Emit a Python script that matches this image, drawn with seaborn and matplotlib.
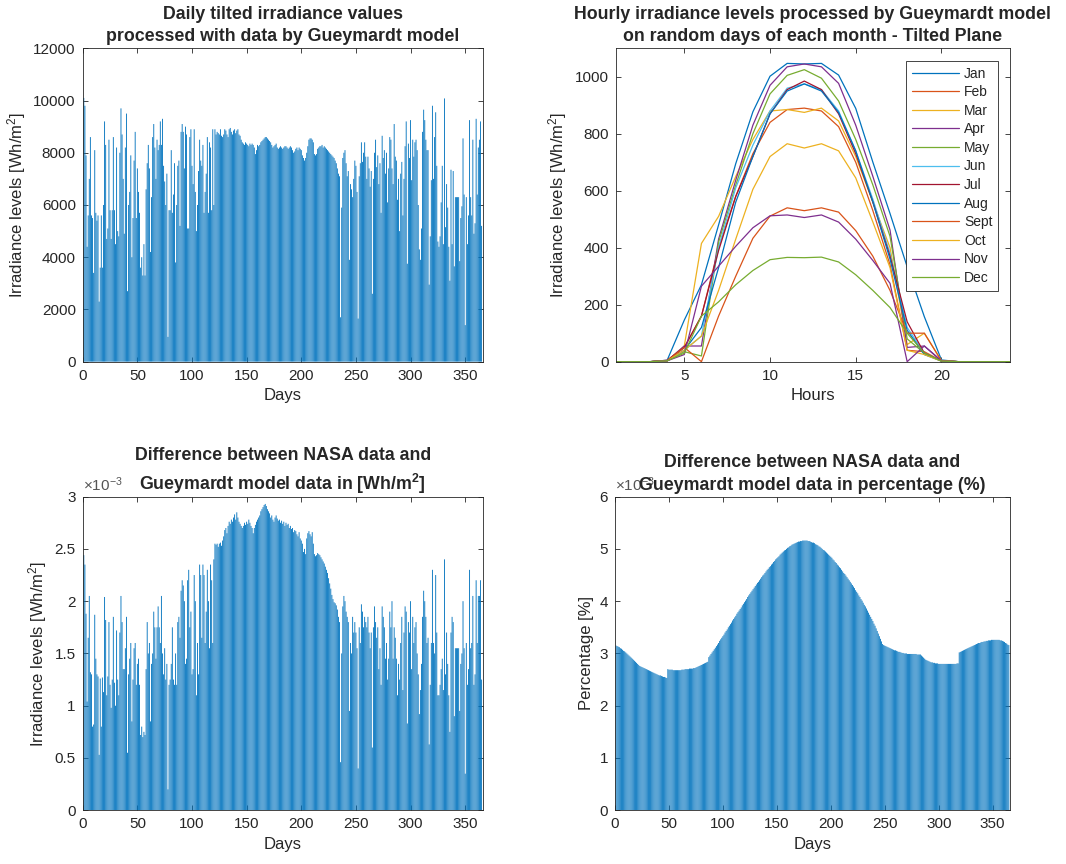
import numpy as np
import pandas as pd
import matplotlib
matplotlib.use("Agg")
import matplotlib.pyplot as plt
from matplotlib.lines import Line2D
from matplotlib.ticker import MultipleLocator, FuncFormatter
import seaborn as sns

# ---------------- data ----------------
# Daily tilted irradiance [Wh/m^2], days 1..365
daily_tilted = [
    10100, 9800, 7900, 4400, 5600, 7000, 8600, 5600, 5500, 3400,
    8100, 5700, 5400, 5600, 2300, 3600, 5600, 3600, 6000, 9200,
    8300, 4700, 5100, 8500, 5800, 4700, 5800, 8600, 5800, 4500,
    8200, 5000, 4800, 8000, 9700, 8700, 7000, 4900, 8200, 9500,
    2700, 6000, 6500, 7900, 4000, 5500, 7700, 8800, 5500, 7400,
    6500, 5700, 3600, 4000, 3300, 4500, 3300, 6600, 7600, 8300,
    7400, 4200, 6300, 8600, 9100, 8200, 7000, 8500, 8100, 8300,
    9200, 8300, 9300, 7500, 6900, 6000, 7200, 950, 5800, 5800,
    8100, 5700, 6400, 7600, 3800, 6000, 7500, 7700, 5200, 8800,
    9100, 8800, 7400, 9000, 8700, 5100, 5100, 8600, 8900, 7500,
    6800, 8900, 6500, 5000, 6000, 7300, 8500, 7700, 7500, 8300,
    5700, 6500, 7200, 8600, 5700, 8400, 8200, 5800, 8900, 6000,
    8900, 8700, 8800, 8750, 8700, 8900, 8650, 8600, 8700, 8900,
    8850, 8700, 8600, 8900, 8950, 8800, 8700, 8850, 8900, 8750,
    8850, 8900, 8700, 8650, 8500, 8400, 8350, 8300, 8400, 8350,
    8300, 8250, 8350, 8300, 8350, 8300, 8200, 7950, 8100, 8300,
    8250, 8300, 8400, 8450, 8500, 8550, 8600, 8600, 8550, 8500,
    8450, 8400, 8300, 8200, 8250, 8300, 8350, 8200, 8150, 8200,
    8250, 8200, 8150, 8200, 8250, 8250, 8200, 8150, 8200, 8250,
    8200, 8100, 8000, 8050, 8150, 8200, 8100, 8200, 8150, 8100,
    7900, 7800, 7700, 7800, 8000, 8250, 8500, 8550, 8550, 8500,
    8400, 7950, 7900, 7950, 8150, 8200, 8250, 8250, 8300, 8200,
    8250, 8200, 8150, 8100, 8050, 8000, 7950, 7900, 7850, 7800,
    7700, 7600, 7400, 7200, 7100, 1700, 5900, 7800, 8000, 8100,
    7600, 7100, 7300, 3900, 6800, 6600, 6300, 7000, 7700, 7500,
    6500, 1650, 7100, 7600, 8400, 7650, 8000, 8400, 7850, 7000,
    7850, 7400, 6700, 7300, 2600, 7000, 8000, 8500, 7450, 7900,
    6800, 7600, 5700, 8650, 7800, 8100, 7200, 8000, 6100, 7400,
    8600, 8500, 7400, 6800, 9100, 7850, 7700, 6200, 7000, 5000,
    7200, 7650, 5600, 7000, 8250, 9200, 3750, 8350, 7800, 9250,
    6950, 8500, 7850, 8400, 8500, 8100, 6000, 4300, 3900, 5100,
    8800, 9650, 9250, 8500, 8100, 8100, 2950, 4800, 6950, 9800,
    7000, 8600, 9550, 7500, 4600, 4400, 4800, 6100, 7500, 4500,
    10080, 5150, 6800, 5900, 4400, 3100, 7350, 4500, 7300, 3650,
    6300, 6300, 6300, 6300, 3850, 5500, 5950, 8550, 6400, 1400,
    6300, 4500, 5600, 9250, 6300, 5600, 8500, 4900, 5300, 9300,
    6400, 8200, 8500, 9200, 5200,
]

# Difference NASA - Gueymardt [x1e-3 Wh/m^2], days 1..365
diff_wh_milli = [
    2.44, 2.35, 1.88, 1.04, 1.65, 2.05, 1.32, 1.30, 0.80, 0.82,
    1.87, 1.45, 1.30, 1.28, 0.53, 1.26, 0.80, 1.27, 1.13, 2.04,
    1.82, 1.10, 1.28, 1.80, 1.20, 0.98, 1.25, 1.85, 1.22, 1.00,
    1.72, 1.25, 1.10, 1.70, 2.05, 1.80, 1.35, 1.35, 1.55, 1.85,
    0.55, 1.30, 1.45, 1.60, 0.85, 1.25, 1.55, 1.60, 1.20, 1.40,
    1.45, 1.20, 0.72, 0.80, 0.70, 0.75, 0.72, 1.35, 1.80, 1.50,
    1.60, 0.85, 1.40, 1.50, 1.90, 1.75, 1.45, 1.75, 1.95, 1.75,
    1.60, 2.05, 1.50, 1.30, 1.55, 1.25, 1.40, 0.20, 1.20, 1.25,
    1.40, 1.75, 1.25, 1.20, 1.50, 1.20, 1.80, 1.85, 1.65, 2.10,
    2.20, 2.15, 2.00, 1.40, 1.45, 2.20, 2.30, 1.75, 1.90, 1.30,
    1.35, 2.25, 2.00, 1.10, 1.60, 1.30, 2.35, 2.25, 1.65, 2.35,
    2.25, 1.60, 1.90, 2.30, 2.00, 1.55, 2.35, 2.20, 1.60, 2.40,
    2.55, 2.54, 2.55, 2.52, 2.55, 2.56, 2.53, 2.58, 2.62, 2.68,
    2.70, 2.65, 2.72, 2.76, 2.74, 2.78, 2.76, 2.80, 2.83, 2.78,
    2.85, 2.80, 2.76, 2.74, 2.72, 2.70, 2.72, 2.75, 2.73, 2.76,
    2.74, 2.78, 2.75, 2.72, 2.70, 2.65, 2.70, 2.73, 2.76, 2.78,
    2.80, 2.82, 2.86, 2.88, 2.90, 2.92, 2.93, 2.91, 2.88, 2.86,
    2.84, 2.80, 2.82, 2.78, 2.76, 2.80, 2.82, 2.79, 2.77, 2.78,
    2.75, 2.77, 2.74, 2.76, 2.72, 2.75, 2.73, 2.74, 2.70, 2.72,
    2.69, 2.70, 2.66, 2.68, 2.67, 2.64, 2.62, 2.66, 2.60, 2.58,
    2.55, 2.47, 2.50, 2.45, 2.60, 2.65, 2.67, 2.64, 2.62, 2.66,
    2.55, 2.45, 2.43, 2.44, 2.46, 2.45, 2.44, 2.42, 2.40, 2.38,
    2.36, 2.33, 2.30, 2.27, 2.22, 2.17, 2.12, 2.06, 2.02, 1.99,
    1.98, 1.96, 1.92, 1.85, 1.80, 0.46, 1.50, 1.95, 2.05, 2.00,
    1.90, 1.85, 1.80, 0.95, 1.60, 1.50, 1.85, 1.70, 1.80, 1.70,
    1.55, 0.40, 1.75, 1.60, 1.97, 1.90, 1.75, 1.85, 1.80, 1.75,
    1.85, 1.70, 1.55, 1.70, 0.60, 1.75, 1.95, 1.80, 1.65, 1.75,
    1.35, 1.55, 1.20, 1.95, 1.85, 1.75, 1.45, 1.60, 1.25, 1.45,
    1.90, 1.75, 2.00, 1.45, 1.75, 1.65, 1.45, 1.10, 1.40, 1.25,
    1.60, 1.85, 1.15, 1.70, 1.95, 1.90, 0.83, 1.80, 1.70, 2.00,
    1.35, 1.85, 1.60, 1.75, 1.80, 1.50, 1.30, 0.92, 1.15, 1.40,
    1.85, 2.10, 2.00, 1.85, 1.60, 1.65, 0.63, 1.20, 1.60, 2.30,
    1.60, 1.50, 2.25, 1.70, 1.10, 1.10, 1.20, 1.35, 1.45, 1.15,
    2.40, 1.30, 1.70, 1.40, 1.10, 0.75, 1.70, 1.85, 1.80, 0.90,
    1.55, 1.55, 1.55, 1.55, 0.95, 1.40, 1.50, 2.00, 1.55, 0.35,
    1.60, 1.20, 1.35, 2.30, 1.55, 1.60, 2.05, 1.20, 1.30, 2.20,
    1.60, 2.05, 2.05, 2.20, 1.25,
]

# Difference in percentage [x1e-3 %], days 1..365
diff_pct_milli = [
    3.15, 3.14, 3.13, 3.12, 3.10, 3.09, 3.07, 3.05, 3.04, 3.02,
    3.00, 2.98, 2.96, 2.94, 2.92, 2.90, 2.88, 2.86, 2.84, 2.82,
    2.80, 2.78, 2.76, 2.75, 2.74, 2.73, 2.72, 2.71, 2.70, 2.69,
    2.68, 2.67, 2.66, 2.65, 2.64, 2.63, 2.62, 2.61, 2.60, 2.59,
    2.58, 2.58, 2.57, 2.56, 2.55, 2.55, 2.54, 2.53, 2.70, 2.69,
    2.69, 2.69, 2.69, 2.68, 2.68, 2.68, 2.68, 2.68, 2.68, 2.68,
    2.68, 2.69, 2.69, 2.69, 2.70, 2.70, 2.70, 2.70, 2.71, 2.71,
    2.71, 2.71, 2.72, 2.72, 2.73, 2.74, 2.75, 2.76, 2.77, 2.78,
    2.79, 2.80, 2.81, 2.82, 2.83, 2.84, 2.93, 2.96, 2.99, 3.02,
    3.05, 3.08, 3.11, 3.14, 3.17, 3.20, 3.24, 3.27, 3.30, 3.33,
    3.36, 3.40, 3.43, 3.46, 3.50, 3.53, 3.56, 3.59, 3.63, 3.66,
    3.69, 3.72, 3.76, 3.79, 3.82, 3.85, 3.88, 3.92, 3.95, 3.98,
    4.01, 4.04, 4.08, 4.11, 4.14, 4.17, 4.20, 4.23, 4.26, 4.29,
    4.32, 4.35, 4.37, 4.40, 4.43, 4.46, 4.49, 4.51, 4.54, 4.57,
    4.60, 4.62, 4.65, 4.67, 4.70, 4.72, 4.75, 4.77, 4.80, 4.82,
    4.84, 4.86, 4.89, 4.91, 4.93, 4.95, 4.97, 4.98, 5.00, 5.02,
    5.03, 5.05, 5.06, 5.08, 5.09, 5.10, 5.11, 5.12, 5.13, 5.14,
    5.14, 5.15, 5.15, 5.16, 5.16, 5.16, 5.16, 5.16, 5.15, 5.15,
    5.14, 5.13, 5.12, 5.12, 5.11, 5.09, 5.08, 5.07, 5.05, 5.04,
    5.02, 5.00, 4.98, 4.97, 4.95, 4.93, 4.91, 4.89, 4.87, 4.85,
    4.83, 4.80, 4.78, 4.75, 4.73, 4.70, 4.68, 4.65, 4.63, 4.60,
    4.57, 4.54, 4.52, 4.49, 4.46, 4.43, 4.40, 4.37, 4.34, 4.31,
    4.28, 4.25, 4.21, 4.18, 4.15, 4.11, 4.08, 4.04, 4.01, 3.97,
    3.93, 3.90, 3.86, 3.82, 3.78, 3.74, 3.70, 3.66, 3.62, 3.57,
    3.53, 3.48, 3.43, 3.38, 3.33, 3.28, 3.23, 3.18, 3.16, 3.15,
    3.14, 3.13, 3.12, 3.11, 3.10, 3.09, 3.08, 3.07, 3.06, 3.06,
    3.05, 3.04, 3.03, 3.03, 3.02, 3.01, 3.01, 3.00, 3.00, 3.00,
    2.99, 2.99, 2.99, 2.99, 2.99, 2.99, 2.99, 2.99, 2.99, 2.98,
    2.98, 2.98, 2.98, 2.96, 2.94, 2.92, 2.90, 2.88, 2.87, 2.86,
    2.85, 2.84, 2.83, 2.83, 2.82, 2.82, 2.81, 2.81, 2.81, 2.80,
    2.80, 2.80, 2.80, 2.80, 2.80, 2.80, 2.80, 2.80, 2.80, 2.80,
    2.80, 2.80, 2.80, 2.80, 2.80, 2.80, 2.81, 2.81, 3.02, 3.03,
    3.04, 3.05, 3.06, 3.07, 3.08, 3.09, 3.10, 3.11, 3.12, 3.13,
    3.14, 3.15, 3.16, 3.17, 3.18, 3.19, 3.20, 3.20, 3.21, 3.22,
    3.22, 3.23, 3.23, 3.24, 3.24, 3.25, 3.25, 3.25, 3.26, 3.26,
    3.26, 3.26, 3.26, 3.26, 3.26, 3.26, 3.25, 3.25, 3.24, 3.23,
    3.22, 3.20, 3.19, 3.17, 3.16,
]

# Hourly irradiance on a random day of each month [Wh/m^2], hours 1..24
hours = list(range(1, 25))
months = ["Jan", "Feb", "Mar", "Apr", "May", "Jun",
          "Jul", "Aug", "Sept", "Oct", "Nov", "Dec"]
jan = [0, 0, 0, 5, 146, 270, 480, 695, 877, 1002, 1047, 1045, 1047, 1006, 889, 700, 520, 333, 158, 6, 0, 0, 0, 0]
feb = [0, 0, 0, 3, 50, 160, 400, 580, 730, 840, 885, 890, 880, 825, 700, 530, 340, 40, 35, 3, 0, 0, 0, 0]
mar = [0, 0, 0, 3, 55, 415, 510, 650, 780, 880, 885, 875, 890, 845, 720, 560, 400, 60, 100, 3, 0, 0, 0, 0]
apr = [0, 0, 0, 3, 55, 55, 430, 637, 830, 970, 1035, 1045, 1035, 977, 830, 650, 462, 50, 55, 3, 0, 0, 0, 0]
may = [0, 0, 0, 3, 35, 20, 420, 620, 800, 940, 1005, 1025, 995, 915, 780, 620, 440, 80, 30, 2, 0, 0, 0, 0]
jun = [0, 0, 0, 3, 40, 90, 400, 610, 760, 880, 960, 975, 955, 880, 740, 570, 380, 120, 30, 2, 0, 0, 0, 0]
jul = [0, 0, 0, 5, 50, 160, 390, 580, 720, 870, 955, 985, 955, 870, 730, 560, 370, 140, 30, 2, 0, 0, 0, 0]
aug = [0, 0, 0, 3, 40, 120, 330, 560, 720, 870, 950, 975, 950, 875, 740, 560, 360, 110, 25, 2, 0, 0, 0, 0]
sep = [0, 0, 0, 3, 50, 0, 160, 300, 433, 511, 540, 530, 540, 525, 460, 370, 250, 100, 100, 3, 0, 0, 0, 0]
oct_ = [0, 0, 0, 3, 40, 90, 250, 430, 605, 720, 765, 750, 765, 740, 645, 490, 330, 40, 25, 2, 0, 0, 0, 0]
nov = [0, 0, 0, 3, 25, 265, 335, 405, 470, 512, 515, 506, 515, 490, 430, 355, 275, 0, 55, 2, 0, 0, 0, 0]
dec = [0, 0, 0, 3, 30, 160, 210, 270, 320, 358, 366, 365, 367, 350, 305, 250, 190, 100, 30, 2, 0, 0, 0, 0]
hourly = [jan, feb, mar, apr, may, jun, jul, aug, sep, oct_, nov, dec]

month_colors = ["#0072BD", "#D95319", "#EDB120", "#7E2F8E", "#77AC30", "#4DBEEE",
                "#A2142F", "#0072BD", "#D95319", "#EDB120", "#7E2F8E", "#77AC30"]
bar_color = "#0072BD"

# ---------------- style ----------------
sns.set_theme(style="white")
axis_c = "#262626"
plt.rcParams.update({
    "axes.edgecolor": axis_c,
    "axes.linewidth": 0.6,
    "xtick.color": axis_c,
    "ytick.color": axis_c,
    "xtick.direction": "in",
    "ytick.direction": "in",
    "xtick.major.size": 3.5,
    "ytick.major.size": 3.5,
    "xtick.major.width": 0.6,
    "ytick.major.width": 0.6,
    "xtick.top": True,
    "ytick.right": True,
    "xtick.labelsize": 11,
    "ytick.labelsize": 11,
    "axes.labelsize": 12,
    "axes.labelcolor": axis_c,
    "axes.titlesize": 12.8,
    "axes.titleweight": "bold",
    "mathtext.fontset": "custom",
    "mathtext.rm": "Liberation Sans",
    "mathtext.it": "Liberation Sans:italic",
    "mathtext.bf": "Liberation Sans:bold",
})
plt.rcParams["font.family"] = ["Liberation Sans", "DejaVu Sans"]

fig = plt.figure(figsize=(10.66, 8.64), dpi=100)
ax1 = fig.add_axes([0.0776, 0.5814, 0.3752, 0.3627])
ax2 = fig.add_axes([0.5776, 0.5814, 0.3699, 0.3627])
ax3 = fig.add_axes([0.0776, 0.0622, 0.3752, 0.3630])
ax4 = fig.add_axes([0.5769, 0.0622, 0.3705, 0.3630])


def style_axes(ax):
    for s in ax.spines.values():
        s.set_visible(True)
        s.set_color(axis_c)
        s.set_linewidth(0.6)
    ax.tick_params(which="both", direction="in", top=True, right=True,
                   bottom=True, left=True, pad=5)


def day_bars(ax, values):
    days = np.arange(1, len(values) + 1)
    df = pd.DataFrame({"day": days, "value": values})
    sns.barplot(data=df, x="day", y="value", native_scale=True, color=bar_color,
                saturation=1, width=0.8, linewidth=0, errorbar=None, ax=ax)
    for p in ax.patches:
        p.set_snap(False)
        p.set_antialiased(True)
    ax.set_xlim(0, 366)
    ax.xaxis.set_major_locator(MultipleLocator(50))
    ax.set_xlabel("Days")
    style_axes(ax)


def set_title(ax, text):
    ax.set_title(text, linespacing=1.4, pad=5)


milli_fmt = FuncFormatter(lambda v, _: f"{v * 1e3:g}")

# Panel 1: daily tilted irradiance
day_bars(ax1, daily_tilted)
ax1.set_ylim(0, 12000)
ax1.yaxis.set_major_locator(MultipleLocator(2000))
ax1.set_ylabel(r"Irradiance levels [Wh/m$^2$]")
set_title(ax1, "Daily tilted irradiance values\nprocessed with data by Gueymardt model")

# Panel 2: hourly lines
long = pd.DataFrame({
    "hour": np.tile(hours, len(months)),
    "value": np.concatenate([np.asarray(v, dtype=float) for v in hourly]),
    "month": np.repeat(months, len(hours)),
})
sns.lineplot(data=long, x="hour", y="value", hue="month", hue_order=months,
             palette=dict(zip(months, month_colors)), linewidth=0.9,
             estimator=None, sort=False, legend=False, ax=ax2)
ax2.set_xlim(1, 24)
ax2.set_ylim(0, 1100)
ax2.xaxis.set_major_locator(MultipleLocator(5))
ax2.yaxis.set_major_locator(MultipleLocator(200))
ax2.set_xlabel("Hours")
ax2.set_ylabel(r"Irradiance levels [Wh/m$^2$]")
set_title(ax2, "Hourly irradiance levels processed by Gueymardt model\n"
               "on random days of each month - Tilted Plane")
style_axes(ax2)
handles = [Line2D([], [], color=c, lw=0.9) for c in month_colors]
leg = ax2.legend(handles, months, loc="upper right", bbox_to_anchor=(0.9696, 0.9595),
                 borderaxespad=0, fontsize=10, handlelength=3.4, handletextpad=0.35,
                 labelspacing=0.33, borderpad=0.4, fancybox=False, framealpha=1)
leg.get_frame().set_edgecolor(axis_c)
leg.get_frame().set_linewidth(0.6)

# Panel 3: difference in Wh/m^2
day_bars(ax3, np.asarray(diff_wh_milli) * 1e-3)
ax3.set_ylim(0, 3e-3)
ax3.yaxis.set_major_locator(MultipleLocator(0.5e-3))
ax3.yaxis.set_major_formatter(milli_fmt)
ax3.set_ylabel(r"Irradiance levels [Wh/m$^2$]")
set_title(ax3, "Difference between NASA data and\n"
               r"Gueymardt model data in [Wh/m$^\mathbf{2}$]")
ax3.text(0.0, 1.008, r"$\times$10$^{-3}$", transform=ax3.transAxes, ha="left",
         va="bottom", fontsize=11, color="#555555")

# Panel 4: difference in percentage
day_bars(ax4, np.asarray(diff_pct_milli) * 1e-3)
ax4.set_ylim(0, 6e-3)
ax4.yaxis.set_major_locator(MultipleLocator(1e-3))
ax4.yaxis.set_major_formatter(milli_fmt)
ax4.set_ylabel("Percentage [%]")
set_title(ax4, "Difference between NASA data and\n"
               "Gueymardt model data in percentage (%)")
ax4.text(0.0, 1.008, r"$\times$10$^{-3}$", transform=ax4.transAxes, ha="left",
         va="bottom", fontsize=11, color="#555555")

fig.savefig("out.png", dpi=100, facecolor="white")
